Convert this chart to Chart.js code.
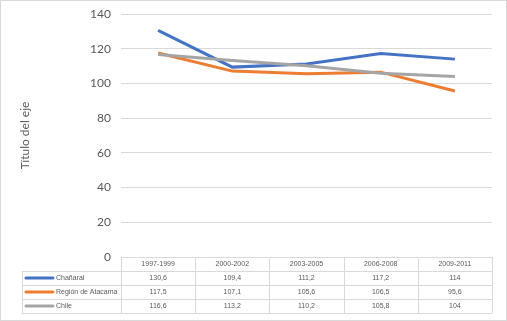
<!DOCTYPE html>
<html>
<head>
<meta charset="utf-8">
<script src="https://cdn.jsdelivr.net/npm/chart.js@4"></script>
<style>
    body { margin: 0; background: #fff; }
    #wrap { position: relative; width: 507px; height: 321px; }
</style>
</head>
<body>
<div id="wrap"><canvas id="chart" width="507" height="321"></canvas></div>
<script>
const periods = ['1997-1999', '2000-2002', '2003-2005', '2006-2008', '2009-2011'];
const chanaral = [130.6, 109.4, 111.2, 117.2, 114];
const atacama = [117.5, 107.1, 105.6, 106.5, 95.6];
const chile = [116.6, 113.2, 110.2, 105.8, 104];
const seriesNames = ['Chañaral', 'Región de Atacama', 'Chile'];
const seriesColors = ['#4472C4', '#ED7D31', '#A5A5A5'];
const yTicks = { min: 0, max: 140, step: 20 };

const textColor = '#595959';
const lineColor = '#d9d9d9';

// number format with comma decimal, like the original table
function fmt(v) {
    return String(v).replace('.', ',');
}

// Data table under the plot, Excel style
const dataTable = {
    id: 'dataTable',
    afterDraw(chart) {
        const ctx = chart.ctx;
        const x = chart.scales.x;
        const area = chart.chartArea;
        const colW = x.width / periods.length;
        const top = area.bottom;
        const rowH = 14;
        const left = 22;
        const rows = [chanaral, atacama, chile];

        ctx.save();
        ctx.strokeStyle = lineColor;
        ctx.lineWidth = 1;

        // horizontal lines
        for (let r = 0; r <= 4; r++) {
            const y = Math.round(top + r * rowH) + 0.5;
            ctx.beginPath();
            ctx.moveTo(r === 0 ? area.left : left, y);
            ctx.lineTo(area.right, y);
            ctx.stroke();
        }
        // vertical lines
        ctx.beginPath();
        ctx.moveTo(left + 0.5, top + rowH);
        ctx.lineTo(left + 0.5, top + 4 * rowH);
        ctx.stroke();
        for (let c = 0; c <= periods.length; c++) {
            const xx = Math.round(area.left + c * colW) + 0.5;
            ctx.beginPath();
            ctx.moveTo(xx, top);
            ctx.lineTo(xx, top + 4 * rowH);
            ctx.stroke();
        }

        ctx.font = '7px "Liberation Sans", sans-serif';
        ctx.fillStyle = textColor;
        ctx.textBaseline = 'middle';
        ctx.textAlign = 'center';
        periods.forEach((p, i) => {
            ctx.fillText(p, x.getPixelForValue(i), top + rowH / 2 + 0.5);
        });
        rows.forEach((vals, r) => {
            const cy = top + (r + 1) * rowH + rowH / 2 + 0.5;
            vals.forEach((v, i) => {
                ctx.fillText(fmt(v), x.getPixelForValue(i), cy);
            });
        });

        // legend keys and names
        ctx.textAlign = 'left';
        rows.forEach((vals, r) => {
            const cy = top + (r + 1) * rowH + rowH / 2;
            ctx.strokeStyle = seriesColors[r];
            ctx.lineWidth = 3;
            ctx.lineCap = 'round';
            ctx.beginPath();
            ctx.moveTo(26, cy);
            ctx.lineTo(53, cy);
            ctx.stroke();
            ctx.fillText(seriesNames[r], 56, cy + 0.5);
        });
        ctx.restore();
    }
};

const frame = {
    id: 'frame',
    beforeDraw(chart) {
        const ctx = chart.ctx;
        ctx.save();
        ctx.fillStyle = '#fff';
        ctx.fillRect(0, 0, chart.width, chart.height);
        ctx.strokeStyle = lineColor;
        ctx.lineWidth = 1;
        ctx.strokeRect(0.5, 0.5, chart.width - 1, chart.height - 1);
        ctx.restore();
    }
};

const datasets = [chanaral, atacama, chile].map((vals, i) => ({
    label: seriesNames[i],
    data: vals,
    borderColor: seriesColors[i],
    backgroundColor: seriesColors[i],
    borderWidth: 3,
    pointRadius: 0,
    tension: 0,
    order: 2 - i
}));

new Chart(document.getElementById('chart').getContext('2d'), {
    type: 'line',
    data: { labels: periods, datasets: datasets },
    options: {
        responsive: false,
        animation: false,
        layout: { padding: { top: 14, bottom: 64, left: 0, right: 15 } },
        plugins: { legend: { display: false }, tooltip: { enabled: false } },
        scales: {
            x: {
                display: false,
                offset: true
            },
            y: {
                min: yTicks.min,
                max: yTicks.max,
                ticks: {
                    stepSize: yTicks.step,
                    color: textColor,
                    padding: 10,
                    font: { family: 'Lato, "Liberation Sans", sans-serif', size: 12 }
                },
                grid: { color: lineColor, drawTicks: false },
                border: { display: false },
                title: {
                    display: true,
                    text: 'Título del eje',
                    color: textColor,
                    padding: { top: 18, bottom: 0 },
                    font: { family: 'Lato, "Liberation Sans", sans-serif', size: 12 }
                },
                afterFit(scale) {
                    scale.width = 121;
                    scale.paddingTop = 0;
                    scale.paddingBottom = 0;
                }
            }
        }
    },
    plugins: [frame, dataTable]
});
</script>
</body>
</html>
